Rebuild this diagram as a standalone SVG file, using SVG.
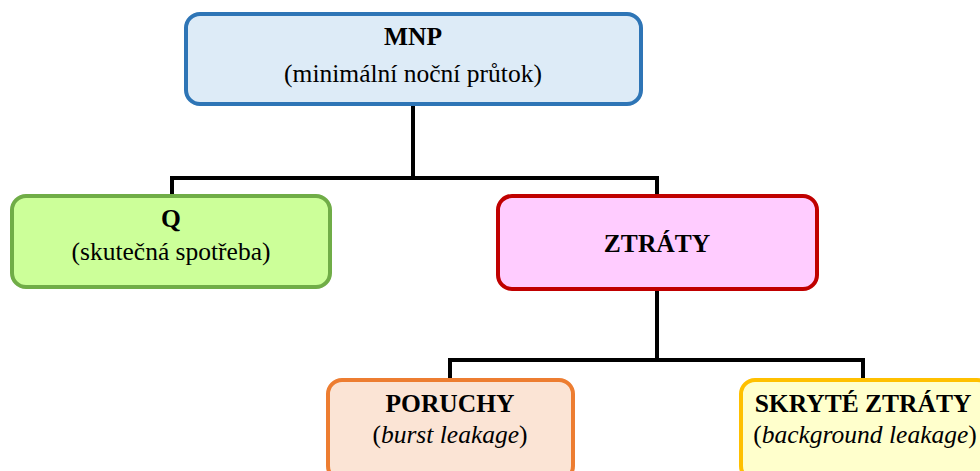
<svg xmlns="http://www.w3.org/2000/svg" width="980" height="471" viewBox="0 0 980 471">
<style>
.t{font-family:"Liberation Serif","Times New Roman",serif;font-size:25.5px;fill:#000;text-anchor:middle}
.b{font-weight:bold}
.c{fill:none;stroke:#000;stroke-width:4}
.box{stroke-width:4}
</style>
<rect width="980" height="471" fill="#fff"/>
<g id="connectors">
<path class="c" d="M413,104 V178 M172,196 V178 H657 V196"/>
<path class="c" d="M657,290 V360 M450,380 V360 H863 V380"/>
</g>
<g id="mnp">
<rect class="box" x="186" y="14" width="455" height="90" rx="14" fill="#DDEBF7" stroke="#2E75B6"/>
<text class="t b" x="413" y="45">MNP</text>
<text class="t" x="413" y="82">(minimální noční průtok)</text>
</g>
<g id="q">
<rect class="box" x="12" y="196" width="318" height="91" rx="14" fill="#CCFF99" stroke="#70AD47"/>
<text class="t b" x="171" y="227">Q</text>
<text class="t" x="171" y="260">(skutečná  spotřeba)</text>
</g>
<g id="ztraty">
<rect class="box" x="498" y="196" width="319" height="93" rx="14" fill="#FFCCFF" stroke="#C00000"/>
<text class="t b" x="657" y="252">ZTRÁTY</text>
</g>
<g id="poruchy">
<rect class="box" x="328" y="380" width="245" height="100" rx="14" fill="#FBE4D5" stroke="#ED7D31"/>
<text class="t b" x="450" y="412">PORUCHY</text>
<text class="t" x="450" y="443">(<tspan font-style="italic">burst leakage</tspan>)</text>
</g>
<g id="skryte">
<rect class="box" x="741" y="380" width="250" height="100" rx="14" fill="#FFFFCC" stroke="#FFC000"/>
<text class="t b" x="863" y="412">SKRYTÉ ZTRÁTY</text>
<text class="t" x="865" y="443">(<tspan font-style="italic">background leakage</tspan>)</text>
</g>
</svg>
